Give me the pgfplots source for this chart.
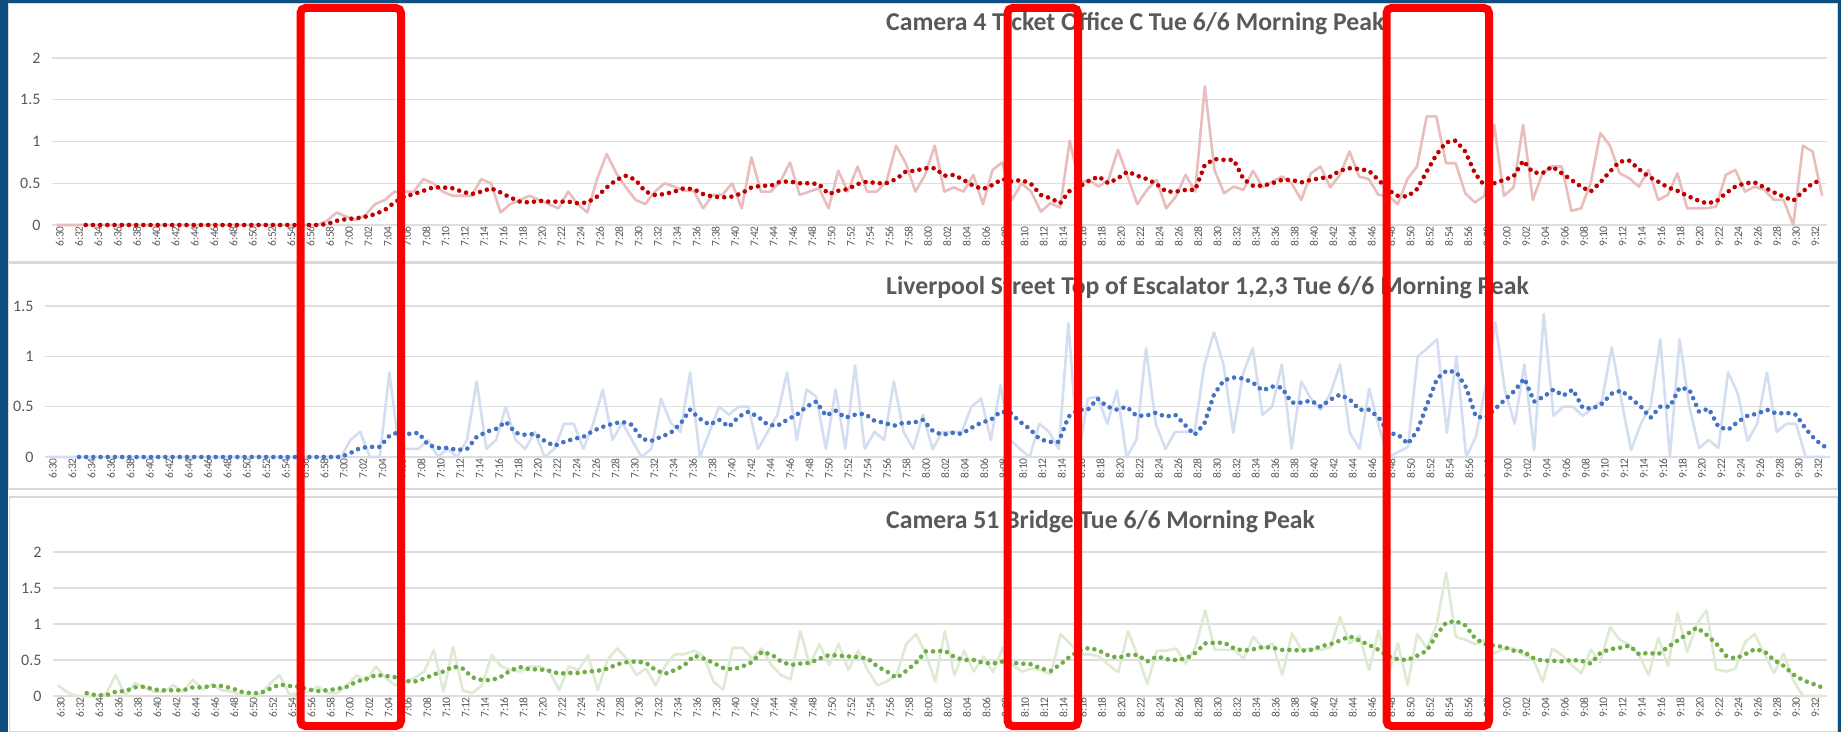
\documentclass[border=0pt]{standalone}
\usepackage{fontspec}
\setmainfont{Carlito}
\usepackage{pgfplots}
\usepackage{pgfplotstable}
\pgfplotsset{compat=1.18}

\definecolor{bgblue}{HTML}{0E4F80}
\definecolor{framegray}{HTML}{D9D9D9}
\definecolor{gridgray}{HTML}{DEDEDE}
\definecolor{labgray}{HTML}{595959}
\definecolor{titlegray}{HTML}{595959}
\definecolor{pinkraw}{HTML}{E8BDBC}
\definecolor{redma}{HTML}{C00000}
\definecolor{blueraw}{HTML}{D3DEF0}
\definecolor{bluema}{HTML}{4472C4}
\definecolor{greenraw}{HTML}{DDEBD3}
\definecolor{greenma}{HTML}{70AD47}

\pgfplotstableread{
t r1 m1 r2 m2 r3 m3
0 0 nan 0 nan 0.15 nan
1 0 nan 0 nan 0.05 nan
2 0 nan 0 nan 0 nan
3 0 0 0 0 0 0.04
4 0 0 0 0 0 0.01
5 0 0 0 0 0.03 0.01
6 0 0 0 0 0.29 0.06
7 0 0 0 0 0.01 0.07
8 0 0 0 0 0.18 0.12
9 0 0 0 0 0.12 0.13
10 0 0 0 0 0.06 0.09
11 0 0 0 0 0.06 0.08
12 0 0 0 0 0.15 0.08
13 0 0 0 0 0.06 0.08
14 0 0 0 0 0.23 0.12
15 0 0 0 0 0.09 0.12
16 0 0 0 0 0.16 0.14
17 0 0 0 0 0.08 0.14
18 0 0 0 0 0.06 0.11
19 0 0 0 0 0.02 0.06
20 0 0 0 0 0.0 0.04
21 0 0 0 0 0.02 0.04
22 0 0 0 0 0.17 0.1
23 0 0 0 0 0.29 0.16
24 0 0 0 0 0.02 0.14
25 0 0 0 0 0.04 0.13
26 0 0 0 0 0.06 0.09
27 0 0 0 0 0.13 0.07
28 0.05 0.01 0 0 0.04 0.08
29 0.15 0.05 0 0 0.04 0.1
30 0.1 0.07 0 0 0.15 0.13
31 0.06 0.08 0.17 0.04 0.29 0.2
32 0.12 0.1 0.25 0.09 0.2 0.24
33 0.25 0.13 0 0.1 0.41 0.29
34 0.3 0.18 0 0.1 0.25 0.28
35 0.4 0.27 0.84 0.21 0.15 0.26
36 0.4 0.34 0.08 0.25 0.2 0.21
37 0.4 0.37 0.08 0.23 0.25 0.2
38 0.55 0.41 0.08 0.24 0.34 0.24
39 0.5 0.45 0.17 0.12 0.64 0.3
40 0.4 0.45 0 0.09 0.06 0.34
41 0.35 0.44 0.08 0.09 0.68 0.41
42 0.35 0.4 0 0.07 0.08 0.38
43 0.35 0.37 0.17 0.08 0.04 0.26
44 0.55 0.4 0.75 0.2 0.15 0.22
45 0.5 0.44 0.08 0.25 0.57 0.22
46 0.15 0.39 0.17 0.28 0.41 0.27
47 0.25 0.33 0.5 0.35 0.36 0.36
48 0.3 0.28 0.17 0.24 0.34 0.4
49 0.35 0.27 0.08 0.22 0.41 0.37
50 0.3 0.29 0.25 0.23 0.41 0.37
51 0.25 0.28 0 0.16 0.34 0.35
52 0.2 0.28 0.08 0.11 0.08 0.31
53 0.4 0.28 0.33 0.15 0.41 0.32
54 0.25 0.26 0.33 0.18 0.36 0.32
55 0.15 0.27 0.08 0.2 0.57 0.34
56 0.55 0.34 0.33 0.26 0.08 0.35
57 0.85 0.45 0.67 0.3 0.5 0.38
58 0.62 0.54 0.17 0.33 0.66 0.44
59 0.45 0.59 0.34 0.35 0.52 0.47
60 0.3 0.54 0.17 0.32 0.29 0.48
61 0.25 0.4 0 0.18 0.38 0.46
62 0.4 0.36 0.08 0.16 0.15 0.36
63 0.5 0.37 0.58 0.2 0.42 0.31
64 0.46 0.4 0.34 0.24 0.58 0.36
65 0.41 0.44 0.25 0.33 0.58 0.43
66 0.41 0.43 0.84 0.47 0.63 0.56
67 0.2 0.37 0 0.38 0.55 0.52
68 0.36 0.34 0.25 0.32 0.2 0.46
69 0.36 0.33 0.5 0.37 0.09 0.39
70 0.5 0.34 0.42 0.3 0.67 0.37
71 0.2 0.38 0.5 0.4 0.67 0.41
72 0.81 0.45 0.5 0.45 0.52 0.47
73 0.4 0.47 0.08 0.4 0.66 0.61
74 0.4 0.47 0.25 0.32 0.43 0.58
75 0.52 0.52 0.42 0.31 0.29 0.48
76 0.75 0.52 0.84 0.37 0.23 0.43
77 0.36 0.5 0.17 0.42 0.9 0.45
78 0.4 0.5 0.67 0.5 0.43 0.46
79 0.44 0.49 0.6 0.55 0.72 0.52
80 0.2 0.37 0.08 0.41 0.43 0.57
81 0.65 0.41 0.67 0.46 0.72 0.56
82 0.4 0.43 0.08 0.39 0.36 0.55
83 0.7 0.49 0.91 0.42 0.63 0.54
84 0.4 0.52 0.08 0.43 0.36 0.52
85 0.4 0.5 0.25 0.36 0.15 0.41
86 0.52 0.5 0.17 0.34 0.2 0.34
87 0.95 0.55 0.75 0.31 0.3 0.25
88 0.74 0.64 0.25 0.34 0.72 0.35
89 0.4 0.65 0.08 0.34 0.86 0.46
90 0.6 0.68 0.42 0.37 0.6 0.62
91 0.95 0.68 0.08 0.26 0.2 0.62
92 0.4 0.59 0.25 0.22 0.9 0.63
93 0.45 0.6 0.25 0.24 0.29 0.54
94 0.4 0.54 0.25 0.23 0.63 0.5
95 0.6 0.47 0.5 0.29 0.34 0.5
96 0.25 0.43 0.58 0.34 0.55 0.46
97 0.66 0.48 0.17 0.37 0.33 0.45
98 0.75 0.55 0.71 0.45 0.67 0.48
99 0.3 0.52 0.17 0.44 0.43 0.46
100 0.5 0.54 0.08 0.35 0.34 0.45
101 0.4 0.49 0 0.28 0.38 0.44
102 0.16 0.36 0.33 0.18 0.36 0.38
103 0.26 0.32 0.25 0.15 0.3 0.35
104 0.21 0.26 0.08 0.15 0.86 0.44
105 1.01 0.41 1.33 0.4 0.73 0.55
106 0.5 0.46 0 0.47 0.58 0.63
107 0.54 0.53 0.58 0.47 0.58 0.67
108 0.46 0.58 0.6 0.58 0.55 0.63
109 0.54 0.5 0.33 0.5 0.43 0.56
110 0.9 0.56 0.66 0.47 0.33 0.53
111 0.58 0.64 0 0.5 0.9 0.57
112 0.25 0.59 0.17 0.41 0.56 0.57
113 0.42 0.55 1.08 0.41 0.17 0.48
114 0.54 0.49 0.33 0.44 0.63 0.55
115 0.2 0.4 0.08 0.4 0.63 0.51
116 0.34 0.4 0.25 0.42 0.66 0.5
117 0.6 0.42 0.25 0.32 0.45 0.52
118 0.4 0.42 0.25 0.22 0.68 0.6
119 1.66 0.72 0.91 0.33 1.19 0.73
120 0.66 0.79 1.24 0.62 0.64 0.74
121 0.38 0.78 0.91 0.76 0.64 0.74
122 0.46 0.78 0.24 0.79 0.64 0.66
123 0.42 0.55 0.83 0.78 0.52 0.63
124 0.65 0.47 1.08 0.74 0.82 0.65
125 0.45 0.47 0.42 0.66 0.66 0.68
126 0.52 0.5 0.5 0.7 0.73 0.67
127 0.58 0.54 0.92 0.69 0.29 0.64
128 0.5 0.54 0.08 0.54 0.87 0.64
129 0.3 0.51 0.75 0.54 0.64 0.63
130 0.62 0.54 0.58 0.56 0.66 0.64
131 0.7 0.56 0.47 0.5 0.64 0.69
132 0.45 0.58 0.63 0.57 0.68 0.72
133 0.6 0.65 0.92 0.62 1.1 0.77
134 0.88 0.68 0.24 0.57 0.73 0.83
135 0.58 0.67 0.08 0.47 0.84 0.77
136 0.55 0.65 0.68 0.47 0.36 0.71
137 0.36 0.54 0.3 0.39 0.91 0.64
138 0.35 0.42 0 0.24 0.3 0.55
139 0.25 0.35 0.05 0.22 0.73 0.51
140 0.55 0.34 0.1 0.13 0.15 0.5
141 0.7 0.43 1.0 0.27 0.86 0.56
142 1.3 0.64 1.08 0.53 0.66 0.63
143 1.3 0.84 1.17 0.78 0.98 0.85
144 0.74 0.99 0.24 0.86 1.71 1.02
145 0.74 1.01 1.0 0.84 0.82 1.04
146 0.38 0.88 0 0.69 0.78 0.98
147 0.27 0.62 0.2 0.4 0.72 0.8
148 0.35 0.47 0.7 0.39 0.78 0.72
149 1.2 0.5 1.34 0.48 0.59 0.7
150 0.35 0.54 0.66 0.57 0.66 0.68
151 0.45 0.58 0.33 0.66 0.66 0.63
152 1.2 0.77 0.92 0.78 0.57 0.62
153 0.3 0.63 0.07 0.55 0.52 0.53
154 0.62 0.62 1.42 0.6 0.2 0.49
155 0.7 0.7 0.41 0.67 0.66 0.49
156 0.7 0.62 0.5 0.61 0.57 0.48
157 0.17 0.54 0.5 0.67 0.43 0.5
158 0.2 0.46 0.41 0.49 0.32 0.49
159 0.5 0.4 0.48 0.48 0.64 0.45
160 1.1 0.51 0.56 0.53 0.47 0.6
161 0.95 0.64 1.09 0.63 0.96 0.65
162 0.62 0.76 0.56 0.66 0.78 0.67
163 0.56 0.77 0.07 0.58 0.71 0.7
164 0.46 0.67 0.33 0.5 0.57 0.58
165 0.66 0.58 0.5 0.39 0.29 0.6
166 0.3 0.52 1.17 0.5 0.81 0.58
167 0.36 0.45 0 0.5 0.42 0.68
168 0.62 0.41 1.17 0.69 1.15 0.77
169 0.2 0.35 0.5 0.67 0.61 0.86
170 0.2 0.3 0.09 0.45 1.0 0.95
171 0.2 0.26 0.17 0.48 1.19 0.85
172 0.22 0.28 0.09 0.3 0.37 0.73
173 0.6 0.38 0.84 0.27 0.34 0.56
174 0.66 0.46 0.63 0.35 0.38 0.52
175 0.4 0.5 0.16 0.41 0.75 0.58
176 0.46 0.51 0.33 0.43 0.86 0.65
177 0.42 0.45 0.84 0.47 0.59 0.62
178 0.3 0.39 0.25 0.43 0.32 0.5
179 0.3 0.34 0.33 0.44 0.59 0.42
180 0 0.29 0.33 0.42 0.22 0.3
181 0.95 0.4 0 0.28 0 0.22
182 0.88 0.5 0 0.17 0 0.17
183 0.35 0.54 0 0.1 0 0.12
}\data

\pgfplotsset{
  panel/.style={
    scale only axis,
    anchor=south west,
    xmin=-0.5, xmax=183.5, ymin=0,
    axis line style={draw=none},
    major tick length=0pt,
    ymajorgrids,
    grid style={draw=gridgray, line width=1.3pt},
    xtick={0,2,...,182},
    xticklabels={6:30,6:32,6:34,6:36,6:38,6:40,6:42,6:44,6:46,6:48,6:50,6:52,6:54,6:56,6:58,7:00,7:02,7:04,7:06,7:08,7:10,7:12,7:14,7:16,7:18,7:20,7:22,7:24,7:26,7:28,7:30,7:32,7:34,7:36,7:38,7:40,7:42,7:44,7:46,7:48,7:50,7:52,7:54,7:56,7:58,8:00,8:02,8:04,8:06,8:08,8:10,8:12,8:14,8:16,8:18,8:20,8:22,8:24,8:26,8:28,8:30,8:32,8:34,8:36,8:38,8:40,8:42,8:44,8:46,8:48,8:50,8:52,8:54,8:56,8:58,9:00,9:02,9:04,9:06,9:08,9:10,9:12,9:14,9:16,9:18,9:20,9:22,9:24,9:26,9:28,9:30,9:32},
    xticklabel style={rotate=90, anchor=east, font=\fontsize{11.5}{13}\selectfont, text=labgray, inner sep=1pt, yshift=-3pt},
    yticklabel style={font=\fontsize{16}{18}\selectfont, text=labgray, xshift=-8pt},
    /pgf/number format/assume math mode=true,
    /pgf/number format/fixed,
    clip=false,
  },
  raw/.style={line width=2.6pt, line join=round},
  ma/.style={line width=4.6pt, line cap=round, dash pattern=on 0pt off 7.2pt},
}

\begin{document}
\begin{tikzpicture}[x=1pt,y=1pt]
\useasboundingbox (0,0) rectangle (1841,732);
\fill[bgblue] (0,0) rectangle (1841,732);
\fill[white] (8,0) rectangle (1838,729);
\draw[framegray, line width=1.2pt] (8.6,470) rectangle (1837.4,728.4);
\draw[framegray, line width=1.2pt] (8.6,243) rectangle (1837.4,469);
\draw[framegray, line width=1.2pt] (9.6,0.6) rectangle (1837.4,235);

% Panel 1
\begin{axis}[panel, at={(52pt,507pt)}, width=1775pt, height=167pt, ymax=2, ytick={0,0.5,1,1.5,2}]
\addplot[raw, pinkraw] table[x=t, y=r1] {\data};
\addplot[ma, redma] table[x=t, y=m1] {\data};
\end{axis}

% Panel 2
\begin{axis}[panel, at={(45pt,275pt)}, width=1785pt, height=151pt, ymax=1.5, ytick={0,0.5,1,1.5}]
\addplot[raw, blueraw] table[x=t, y=r2] {\data};
\addplot[ma, bluema] table[x=t, y=m2] {\data};
\end{axis}

% Panel 3
\begin{axis}[panel, at={(53pt,36pt)}, width=1774pt, height=144pt, ymax=2, ytick={0,0.5,1,1.5,2}]
\addplot[raw, greenraw] table[x=t, y=r3] {\data};
\addplot[ma, greenma] table[x=t, y=m3] {\data};
\end{axis}

\node[anchor=base west, inner sep=0pt, text=titlegray, font=\fontsize{25.7}{29}\selectfont\bfseries] at (886,701) {Camera 4 Ticket Office C Tue 6/6 Morning Peak};
\node[anchor=base west, inner sep=0pt, text=titlegray, font=\fontsize{25.7}{29}\selectfont\bfseries] at (886,437) {Liverpool Street Top of Escalator 1,2,3 Tue 6/6 Morning Peak};
\node[anchor=base west, inner sep=0pt, text=titlegray, font=\fontsize{25.7}{29}\selectfont\bfseries] at (886,204) {Camera 51 Bridge Tue 6/6 Morning Peak};

\draw[red, line width=8pt, rounded corners=5pt] (300.5,6) rectangle (401,724);
\draw[red, line width=8pt, rounded corners=5pt] (1007.5,6) rectangle (1078,724);
\draw[red, line width=8pt, rounded corners=5pt] (1386.5,6) rectangle (1489,724);
\end{tikzpicture}
\end{document}
